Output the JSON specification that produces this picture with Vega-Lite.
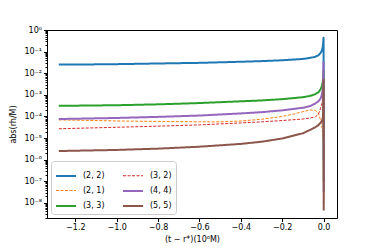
{
  "$schema": "https://vega.github.io/schema/vega-lite/v6.json",
  "width": 290,
  "height": 188,
  "autosize": "none",
  "padding": {"left": 47, "top": 30, "right": 37, "bottom": 31},
  "config": {
    "font": "DejaVu Sans",
    "view": {"stroke": "black", "strokeWidth": 1},
    "axis": {
      "labelFontSize": 8, "titleFontSize": 8, "titleFontWeight": "normal",
      "labelColor": "black", "titleColor": "black", "tickColor": "black",
      "domainColor": "black", "tickSize": 3.5, "labelPadding": 2, "grid": false
    },
    "legend": {
      "labelFontSize": 8, "labelColor": "black"
    }
  },
  "data": {
    "values": [
      {"mode": "(2, 2)", "x": -1.28, "y": 2.51e-2},
      {"mode": "(2, 2)", "x": -1.1, "y": 2.57e-2},
      {"mode": "(2, 2)", "x": -1.0, "y": 2.63e-2},
      {"mode": "(2, 2)", "x": -0.8, "y": 2.82e-2},
      {"mode": "(2, 2)", "x": -0.6, "y": 3.02e-2},
      {"mode": "(2, 2)", "x": -0.4, "y": 3.39e-2},
      {"mode": "(2, 2)", "x": -0.3, "y": 3.63e-2},
      {"mode": "(2, 2)", "x": -0.2, "y": 3.98e-2},
      {"mode": "(2, 2)", "x": -0.1, "y": 4.57e-2},
      {"mode": "(2, 2)", "x": -0.065, "y": 5.13e-2},
      {"mode": "(2, 2)", "x": -0.04, "y": 5.75e-2},
      {"mode": "(2, 2)", "x": -0.025, "y": 6.76e-2},
      {"mode": "(2, 2)", "x": -0.015, "y": 8.51e-2},
      {"mode": "(2, 2)", "x": -0.008, "y": 0.112},
      {"mode": "(2, 2)", "x": -0.004, "y": 0.158},
      {"mode": "(2, 2)", "x": -0.002, "y": 0.24},
      {"mode": "(2, 2)", "x": 0, "y": 0.437},
      {"mode": "(2, 2)", "x": 0.0005, "y": 1e-3},
      {"mode": "(2, 2)", "x": 0.001, "y": 1e-6},

      {"mode": "(2, 1)", "x": -1.28, "y": 6.92e-5},
      {"mode": "(2, 1)", "x": -1.1, "y": 6.46e-5},
      {"mode": "(2, 1)", "x": -1.0, "y": 6.17e-5},
      {"mode": "(2, 1)", "x": -0.8, "y": 5.89e-5},
      {"mode": "(2, 1)", "x": -0.6, "y": 5.62e-5},
      {"mode": "(2, 1)", "x": -0.5, "y": 5.62e-5},
      {"mode": "(2, 1)", "x": -0.4, "y": 6.17e-5},
      {"mode": "(2, 1)", "x": -0.3, "y": 7.41e-5},
      {"mode": "(2, 1)", "x": -0.2, "y": 1.0e-4},
      {"mode": "(2, 1)", "x": -0.15, "y": 1.26e-4},
      {"mode": "(2, 1)", "x": -0.1, "y": 1.66e-4},
      {"mode": "(2, 1)", "x": -0.065, "y": 2.0e-4},
      {"mode": "(2, 1)", "x": -0.04, "y": 1.91e-4},
      {"mode": "(2, 1)", "x": -0.025, "y": 1.41e-4},
      {"mode": "(2, 1)", "x": -0.015, "y": 7.08e-5},
      {"mode": "(2, 1)", "x": -0.008, "y": 3.16e-5},
      {"mode": "(2, 1)", "x": -0.004, "y": 1.58e-5},
      {"mode": "(2, 1)", "x": -0.002, "y": 1e-5},
      {"mode": "(2, 1)", "x": 0, "y": 2.51e-3},
      {"mode": "(2, 1)", "x": 0.0005, "y": 1e-6},
      {"mode": "(2, 1)", "x": 0.001, "y": 1e-8},

      {"mode": "(3, 3)", "x": -1.28, "y": 3.09e-4},
      {"mode": "(3, 3)", "x": -1.0, "y": 3.31e-4},
      {"mode": "(3, 3)", "x": -0.8, "y": 3.63e-4},
      {"mode": "(3, 3)", "x": -0.6, "y": 4.17e-4},
      {"mode": "(3, 3)", "x": -0.4, "y": 5.01e-4},
      {"mode": "(3, 3)", "x": -0.3, "y": 5.50e-4},
      {"mode": "(3, 3)", "x": -0.2, "y": 6.31e-4},
      {"mode": "(3, 3)", "x": -0.1, "y": 7.76e-4},
      {"mode": "(3, 3)", "x": -0.065, "y": 8.91e-4},
      {"mode": "(3, 3)", "x": -0.04, "y": 1.07e-3},
      {"mode": "(3, 3)", "x": -0.025, "y": 1.32e-3},
      {"mode": "(3, 3)", "x": -0.015, "y": 1.74e-3},
      {"mode": "(3, 3)", "x": -0.008, "y": 2.51e-3},
      {"mode": "(3, 3)", "x": -0.004, "y": 3.80e-3},
      {"mode": "(3, 3)", "x": -0.002, "y": 5.62e-3},
      {"mode": "(3, 3)", "x": 0, "y": 1.26e-2},
      {"mode": "(3, 3)", "x": 0.0005, "y": 1e-4},
      {"mode": "(3, 3)", "x": 0.001, "y": 1e-7},

      {"mode": "(3, 2)", "x": -1.28, "y": 2.69e-5},
      {"mode": "(3, 2)", "x": -1.0, "y": 3.16e-5},
      {"mode": "(3, 2)", "x": -0.8, "y": 3.55e-5},
      {"mode": "(3, 2)", "x": -0.6, "y": 4.07e-5},
      {"mode": "(3, 2)", "x": -0.4, "y": 5.01e-5},
      {"mode": "(3, 2)", "x": -0.3, "y": 5.62e-5},
      {"mode": "(3, 2)", "x": -0.2, "y": 6.46e-5},
      {"mode": "(3, 2)", "x": -0.1, "y": 7.59e-5},
      {"mode": "(3, 2)", "x": -0.065, "y": 8.51e-5},
      {"mode": "(3, 2)", "x": -0.04, "y": 9.55e-5},
      {"mode": "(3, 2)", "x": -0.025, "y": 1.26e-4},
      {"mode": "(3, 2)", "x": -0.015, "y": 2.24e-4},
      {"mode": "(3, 2)", "x": -0.008, "y": 3.98e-4},
      {"mode": "(3, 2)", "x": -0.004, "y": 6.31e-4},
      {"mode": "(3, 2)", "x": -0.002, "y": 1.0e-3},
      {"mode": "(3, 2)", "x": 0, "y": 2.0e-3},
      {"mode": "(3, 2)", "x": 0.0005, "y": 1e-6},
      {"mode": "(3, 2)", "x": 0.001, "y": 1e-8},

      {"mode": "(4, 4)", "x": -1.28, "y": 7.59e-5},
      {"mode": "(4, 4)", "x": -1.0, "y": 8.51e-5},
      {"mode": "(4, 4)", "x": -0.8, "y": 9.55e-5},
      {"mode": "(4, 4)", "x": -0.6, "y": 1.10e-4},
      {"mode": "(4, 4)", "x": -0.4, "y": 1.38e-4},
      {"mode": "(4, 4)", "x": -0.3, "y": 1.58e-4},
      {"mode": "(4, 4)", "x": -0.2, "y": 1.91e-4},
      {"mode": "(4, 4)", "x": -0.1, "y": 2.51e-4},
      {"mode": "(4, 4)", "x": -0.065, "y": 3.02e-4},
      {"mode": "(4, 4)", "x": -0.04, "y": 3.98e-4},
      {"mode": "(4, 4)", "x": -0.025, "y": 5.01e-4},
      {"mode": "(4, 4)", "x": -0.015, "y": 6.61e-4},
      {"mode": "(4, 4)", "x": -0.008, "y": 1.0e-3},
      {"mode": "(4, 4)", "x": -0.004, "y": 1.78e-3},
      {"mode": "(4, 4)", "x": -0.002, "y": 3.55e-3},
      {"mode": "(4, 4)", "x": 0, "y": 3.16e-2},
      {"mode": "(4, 4)", "x": 0.0005, "y": 1e-5},
      {"mode": "(4, 4)", "x": 0.001, "y": 3.16e-8},

      {"mode": "(5, 5)", "x": -1.28, "y": 2.51e-6},
      {"mode": "(5, 5)", "x": -1.0, "y": 2.82e-6},
      {"mode": "(5, 5)", "x": -0.8, "y": 3.24e-6},
      {"mode": "(5, 5)", "x": -0.6, "y": 3.98e-6},
      {"mode": "(5, 5)", "x": -0.4, "y": 5.37e-6},
      {"mode": "(5, 5)", "x": -0.3, "y": 6.76e-6},
      {"mode": "(5, 5)", "x": -0.2, "y": 9.55e-6},
      {"mode": "(5, 5)", "x": -0.1, "y": 1.66e-5},
      {"mode": "(5, 5)", "x": -0.065, "y": 2.40e-5},
      {"mode": "(5, 5)", "x": -0.04, "y": 3.16e-5},
      {"mode": "(5, 5)", "x": -0.025, "y": 3.98e-5},
      {"mode": "(5, 5)", "x": -0.015, "y": 5.01e-5},
      {"mode": "(5, 5)", "x": -0.008, "y": 6.31e-5},
      {"mode": "(5, 5)", "x": -0.004, "y": 7.94e-5},
      {"mode": "(5, 5)", "x": -0.002, "y": 1.26e-4},
      {"mode": "(5, 5)", "x": 0, "y": 5.01e-3},
      {"mode": "(5, 5)", "x": 0.0008, "y": 4.47e-9}
    ]
  },
  "mark": {"type": "line", "clip": true, "strokeCap": "butt", "strokeJoin": "round"},
  "encoding": {
    "x": {
      "field": "x", "type": "quantitative",
      "scale": {"domain": [-1.337, 0.065], "nice": false, "zero": false},
      "axis": {
        "values": [-1.2, -1.0, -0.8, -0.6, -0.4, -0.2, 0.0],
        "format": ".1f",
        "title": "(t − r*)(10⁶M)",
        "titlePadding": 4,
        "labelFlush": false
      }
    },
    "y": {
      "field": "y", "type": "quantitative",
      "scale": {"type": "log", "domain": [2e-9, 1], "nice": false},
      "axis": {
        "values": [1e-8, 2e-8, 3e-8, 4e-8, 5e-8, 6e-8, 7e-8, 8e-8, 9e-8,
                   1e-7, 2e-7, 3e-7, 4e-7, 5e-7, 6e-7, 7e-7, 8e-7, 9e-7,
                   1e-6, 2e-6, 3e-6, 4e-6, 5e-6, 6e-6, 7e-6, 8e-6, 9e-6,
                   1e-5, 2e-5, 3e-5, 4e-5, 5e-5, 6e-5, 7e-5, 8e-5, 9e-5,
                   1e-4, 2e-4, 3e-4, 4e-4, 5e-4, 6e-4, 7e-4, 8e-4, 9e-4,
                   1e-3, 2e-3, 3e-3, 4e-3, 5e-3, 6e-3, 7e-3, 8e-3, 9e-3,
                   1e-2, 2e-2, 3e-2, 4e-2, 5e-2, 6e-2, 7e-2, 8e-2, 9e-2,
                   0.1, 0.2, 0.3, 0.4, 0.5, 0.6, 0.7, 0.8, 0.9, 1,
                   2e-9, 3e-9, 4e-9, 5e-9, 6e-9, 7e-9, 8e-9, 9e-9],
        "labelExpr": "abs(log(datum.value)/LN10 - round(log(datum.value)/LN10)) < 1e-6 ? '10' + ['⁰','⁻¹','⁻²','⁻³','⁻⁴','⁻⁵','⁻⁶','⁻⁷','⁻⁸'][round(-log(datum.value)/LN10)] : ''",
        "labelOverlap": false,
        "labelFlush": false,
        "tickSize": {"condition": {"test": "abs(log(datum.value)/LN10 - round(log(datum.value)/LN10)) < 1e-6", "value": 3.5}, "value": 2},
        "title": "abs(rh/M)",
        "titlePadding": 6
      }
    },
    "color": {
      "field": "mode", "type": "ordinal",
      "scale": {
        "type": "ordinal",
        "domain": ["(2, 2)", "(2, 1)", "(3, 3)", "(3, 2)", "(4, 4)", "(5, 5)"],
        "range": ["#1f77b4", "#ff7f0e", "#2ca02c", "#d62728", "#9467bd", "#8c564b"]
      },
      "legend": {
        "title": null,
        "orient": "bottom-left",
        "offset": 4,
        "columns": 2,
        "symbolType": "stroke",
        "symbolSize": 400,
        "rowPadding": -7,
        "columnPadding": 14,
        "labelOffset": 6,
        "padding": 4,
        "strokeColor": "#cccccc",
        "fillColor": "white",
        "cornerRadius": 3
      }
    },
    "strokeDash": {
      "field": "mode", "type": "ordinal",
      "scale": {
        "type": "ordinal",
        "domain": ["(2, 2)", "(2, 1)", "(3, 3)", "(3, 2)", "(4, 4)", "(5, 5)"],
        "range": [[1, 0], [3, 1.5], [1, 0], [3, 1.5], [1, 0], [1, 0]]
      }
    },
    "strokeWidth": {
      "field": "mode", "type": "ordinal",
      "scale": {
        "type": "ordinal",
        "domain": ["(2, 2)", "(2, 1)", "(3, 3)", "(3, 2)", "(4, 4)", "(5, 5)"],
        "range": [2, 1, 2, 1, 2, 2]
      }
    }
  }
}
